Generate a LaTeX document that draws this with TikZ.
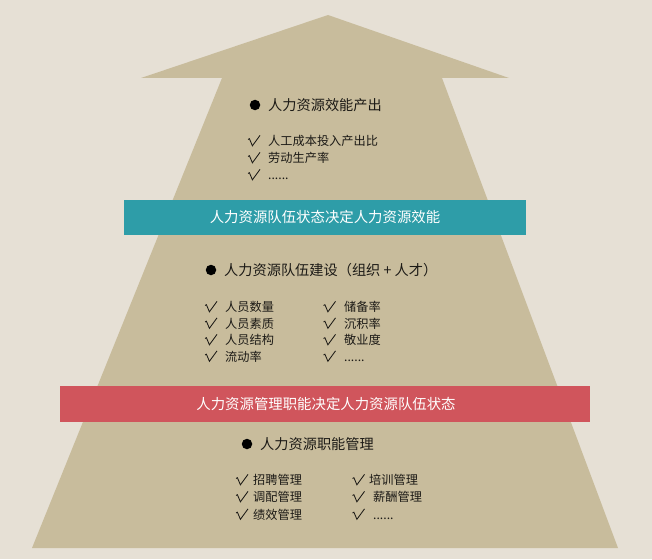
\documentclass[tikz,border=0pt]{standalone}
\usepackage{fontspec}
\setmainfont{Noto Sans CJK SC}
\definecolor{bgc}{HTML}{E6E0D5}
\definecolor{tanc}{HTML}{C8BC9C}
\definecolor{tealc}{HTML}{2E9DA8}
\definecolor{redc}{HTML}{D0555C}
\definecolor{txtc}{HTML}{1C1A16}
\newcommand{\cjkstrut}{\vphantom{人}}
\tikzset{
  head/.style={anchor=west,inner sep=0pt,text=txtc,font=\fontsize{14.2}{16}\selectfont},
  item/.style={anchor=west,inner sep=0pt,text=txtc,font=\fontsize{12.2}{14}\selectfont},
  chk/.style={anchor=center,inner sep=0pt,minimum width=14pt,minimum height=14pt,
    path picture={\draw[txtc,line width=0.85pt,line join=miter,shift={(path picture bounding box.center)}]
      (-6,-1.5) -- (-4.6,-2.3) -- (-1.6,4.8) -- (6,-5.6);}},
  dot/.style={circle,fill=black,inner sep=0pt,minimum size=10.5pt},
  bandtext/.style={anchor=center,inner sep=0pt,text=white,font=\fontsize{14.4}{16}\selectfont}
}
\begin{document}
\begin{tikzpicture}[x=1pt,y=-1pt]
\fill[bgc] (0,0) rectangle (652,559);
\useasboundingbox (0,0) rectangle (652,559);
% arrow / pyramid
\fill[tanc] (328,15) -- (509,78) -- (442,78) -- (618,548) -- (32,548) -- (222,78) -- (141,78) -- cycle;
% bands
\fill[tealc] (124,200) rectangle (526,235);
\fill[redc] (60,386) rectangle (590,422);
\node[bandtext] (band1) at (325,217.5) {人力资源队伍状态决定人力资源效能};
\node[bandtext] (band2) at (326,404) {人力资源管理职能决定人力资源队伍状态};
% top section
\node[dot] (b1) at (255,105) {};
\node[head] (h1) at (268,105) {人力资源效能产出};
\node[chk] (c11) at (254,141) {};
\node[item] (t11) at (268,141) {人工成本投入产出比};
\node[chk] (c12) at (254,158) {};
\node[item] (t12) at (268,158) {劳动生产率};
\node[chk] (c13) at (254,175) {};
\node[item] (t13) at (268,175) {\cjkstrut......};
% middle section
\node[dot] (b2) at (211,270) {};
\node[head] (h2) at (224,270) {人力资源队伍建设（组织 + 人才）};
\node[chk] (c21) at (211,307) {};
\node[item] (t21) at (225,307) {人员数量};
\node[chk] (c22) at (211,323.5) {};
\node[item] (t22) at (225,323.5) {人员素质};
\node[chk] (c23) at (211,340) {};
\node[item] (t23) at (225,340) {人员结构};
\node[chk] (c24) at (211,356.5) {};
\node[item] (t24) at (225,356.5) {流动率};
\node[chk] (c25) at (329.5,307) {};
\node[item] (t25) at (344,307) {储备率};
\node[chk] (c26) at (329.5,323.5) {};
\node[item] (t26) at (344,323.5) {沉积率};
\node[chk] (c27) at (329.5,340) {};
\node[item] (t27) at (344,340) {敬业度};
\node[chk] (c28) at (329.5,356.5) {};
\node[item] (t28) at (344,356.5) {\cjkstrut......};
% bottom section
\node[dot] (b3) at (247,444) {};
\node[head] (h3) at (260,444) {人力资源职能管理};
\node[chk] (c31) at (242,480) {};
\node[item] (t31) at (253,480) {招聘管理};
\node[chk] (c32) at (242,497) {};
\node[item] (t32) at (253,497) {调配管理};
\node[chk] (c33) at (242,514.5) {};
\node[item] (t33) at (253,514.5) {绩效管理};
\node[chk] (c34) at (358.5,480) {};
\node[item] (t34) at (369,480) {培训管理};
\node[chk] (c35) at (358.5,497) {};
\node[item] (t35) at (373,497) {薪酬管理};
\node[chk] (c36) at (358.5,514.5) {};
\node[item] (t36) at (373,514.5) {\cjkstrut......};
\end{tikzpicture}
\end{document}
